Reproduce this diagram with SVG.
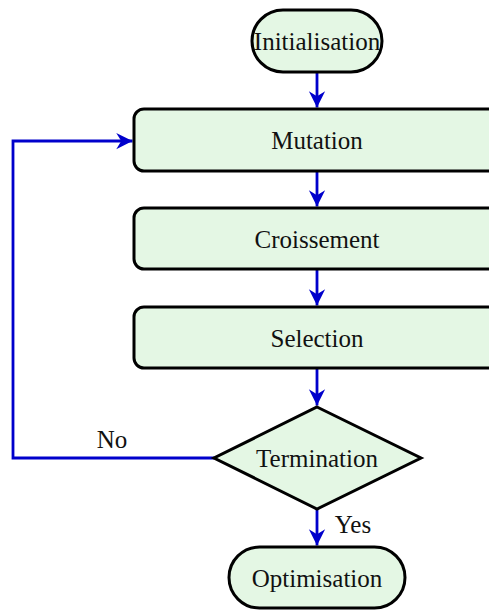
<svg xmlns="http://www.w3.org/2000/svg" width="489" height="610" viewBox="0 0 489 610">
<style>
.node{fill:#e4f7e4;stroke:#000;stroke-width:3}
.lbl{font-family:"Liberation Serif","Times New Roman",serif;font-size:25px;fill:#111;text-anchor:middle}
.edge{fill:none;stroke:#0000cc;stroke-width:2.8}
</style>
<defs>
<marker id="ah" markerUnits="userSpaceOnUse" markerWidth="20" markerHeight="20" viewBox="-14 -8 16 16" refX="0" refY="0" orient="auto">
<path d="M0,0 L-13,-6.5 L-9,0 L-13,6.5 Z" fill="#0000cc"/>
</marker>
</defs>
<g id="edges">
<path class="edge" marker-end="url(#ah)" d="M317,72 L317,107.5"/>
<path class="edge" marker-end="url(#ah)" d="M317,171 L317,206.5"/>
<path class="edge" marker-end="url(#ah)" d="M317,269 L317,305.5"/>
<path class="edge" marker-end="url(#ah)" d="M317,368 L317,405.5"/>
<path class="edge" marker-end="url(#ah)" d="M317,509 L317,545.5"/>
<path class="edge" marker-end="url(#ah)" d="M214,458 L13,458 L13,141 L132.5,141"/>
</g>
<g id="initialisation">
<rect class="node" x="252" y="10" width="130" height="62" rx="31"/>
<text class="lbl" x="317" y="50">Initialisation</text>
</g>
<g id="mutation">
<rect class="node" x="134" y="109" width="366" height="62" rx="10"/>
<text class="lbl" x="317" y="149">Mutation</text>
</g>
<g id="croissement">
<rect class="node" x="134" y="208" width="366" height="61" rx="10"/>
<text class="lbl" x="317" y="248">Croissement</text>
</g>
<g id="selection">
<rect class="node" x="134" y="307" width="366" height="61" rx="10"/>
<text class="lbl" x="317" y="347">Selection</text>
</g>
<g id="termination">
<polygon class="node" points="317,407 421,458 317,509 214,458"/>
<text class="lbl" x="317" y="467">Termination</text>
</g>
<g id="optimisation">
<rect class="node" x="229" y="547" width="176" height="61" rx="30.5"/>
<text class="lbl" x="317" y="587">Optimisation</text>
</g>
<text class="lbl" x="112" y="448">No</text>
<text class="lbl" x="353" y="533">Yes</text>
</svg>
